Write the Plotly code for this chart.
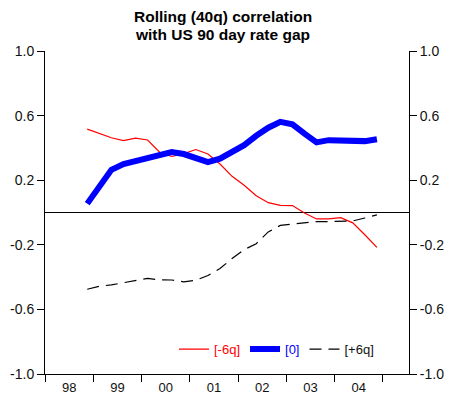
import plotly.graph_objects as go

# quarterly observations, plotted mid-quarter
quarters = ['1998Q4',
            '1999Q1', '1999Q2', '1999Q3', '1999Q4',
            '2000Q1', '2000Q2', '2000Q3', '2000Q4',
            '2001Q1', '2001Q2', '2001Q3', '2001Q4',
            '2002Q1', '2002Q2', '2002Q3', '2002Q4',
            '2003Q1', '2003Q2', '2003Q3', '2003Q4',
            '2004Q1', '2004Q2', '2004Q3', '2004Q4']

lag_minus6 = [0.516, 0.488, 0.463, 0.445, 0.460, 0.449, 0.373, 0.347, 0.365,
              0.390, 0.362, 0.300, 0.224, 0.169, 0.104, 0.061, 0.044, 0.043,
              -0.003, -0.040, -0.040, -0.032, -0.064, -0.138, -0.216]
lag_zero = [0.055, 0.163, 0.264, 0.300, 0.320, 0.334, 0.362, 0.374, 0.362,
            0.334, 0.312, 0.333, 0.374, 0.417, 0.475, 0.525, 0.561, 0.546,
            0.488, 0.434, 0.448, 0.449, 0.445, 0.442, 0.454]
lag_plus6 = [-0.475, -0.457, -0.448, -0.434, -0.420, -0.408, -0.417, -0.418,
             -0.429, -0.420, -0.390, -0.347, -0.285, -0.230, -0.193, -0.120,
             -0.080, -0.072, -0.064, -0.056, -0.056, -0.056, -0.052, -0.034,
             -0.015]

year_labels = ['98', '99', '00', '01', '02', '03', '04']
year_starts = [1998, 1999, 2000, 2001, 2002, 2003, 2004, 2005]
y_ticks = [-1.0, -0.6, -0.2, 0.2, 0.6, 1.0]
y_labels = ['-1.0', '-0.6', '-0.2', '0.2', '0.6', '1.0']
title_lines = ['Rolling (40q) correlation', 'with US 90 day rate gap']


def to_year(q):
    y, n = q.split('Q')
    return int(y) + (int(n) - 0.5) / 4


x = [to_year(q) for q in quarters]
FONT = 'Liberation Sans, Arial, sans-serif'

fig = go.Figure()
fig.add_trace(go.Scatter(x=x, y=lag_minus6, mode='lines',
                         name='<span style="color:#ff0000">[-6q]</span>',
                         line=dict(color='#ff0000', width=1.2)))
fig.add_trace(go.Scatter(x=x, y=lag_zero, mode='lines',
                         name='<span style="color:#0000ff">[0]</span>',
                         line=dict(color='#0000ff', width=6)))
# on the overlaying axes so the right-hand scale gets drawn
fig.add_trace(go.Scatter(x=x, y=lag_plus6, mode='lines', xaxis='x2', yaxis='y2',
                         name='[+6q]',
                         line=dict(color='#000000', width=1.2, dash='12px,7px')))

yax = dict(range=[-1, 1], tickvals=y_ticks, ticktext=y_labels,
           ticks='outside', ticklen=7, tickcolor='#000', tickwidth=1,
           showline=True, linecolor='#000', linewidth=1, automargin=False,
           showgrid=False, tickfont=dict(size=14, color='#111'))

# two-line bold title, one annotation per line
for i, line in enumerate(title_lines):
    fig.add_annotation(text='<b>%s</b>' % line, xref='paper', yref='paper',
                       x=0.489, y=1.107 - i * 0.056, xanchor='center',
                       yanchor='middle', showarrow=False,
                       font=dict(size=15.5, color='#000'))

fig.update_layout(
    width=456, height=402, autosize=False,
    margin=dict(l=45, r=47, t=51, b=28, autoexpand=False),
    paper_bgcolor='white', plot_bgcolor='white',
    font=dict(family=FONT, color='#111'),
    xaxis=dict(range=[1998, 2005.54], showgrid=False, zeroline=False,
               showline=True, linecolor='#000', linewidth=1, automargin=False,
               tickvals=[v + 0.5 for v in year_starts[:-1]], ticktext=year_labels,
               ticks='outside', ticklen=1, tickcolor='rgba(0,0,0,0)',
               tickfont=dict(size=13, color='#111'),
               minor=dict(tickvals=year_starts, ticks='outside', ticklen=7,
                          tickcolor='#000', showgrid=False)),
    xaxis2=dict(overlaying='x', matches='x', anchor='y', visible=False),
    yaxis=dict(zeroline=True, zerolinecolor='#000', zerolinewidth=1, **yax),
    yaxis2=dict(overlaying='y', matches='y', side='right', anchor='x',
                zeroline=False, **yax),
    legend=dict(orientation='h', x=0.636, xanchor='center', y=0.077,
                yanchor='middle', bgcolor='rgba(0,0,0,0)',
                font=dict(size=13), itemwidth=30, tracegroupgap=0),
    showlegend=True,
)

# drop the default page margin so the figure sits at the window's corner
fig.write_html('out.html', post_script="document.body.style.margin='0';",
               config={'displayModeBar': False, 'responsive': False})
